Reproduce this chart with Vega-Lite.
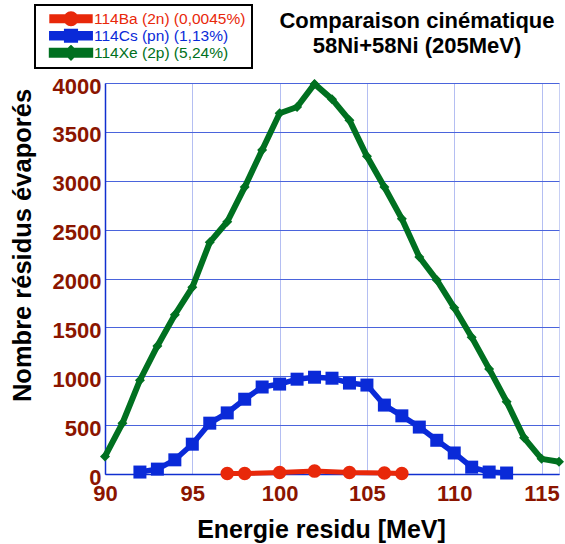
{
  "$schema": "https://vega.github.io/schema/vega-lite/v6.json",
  "width": 454,
  "height": 391,
  "autosize": {"type": "none"},
  "padding": {"left": 105, "top": 83, "right": 6, "bottom": 70},
  "background": "white",
  "config": {"font": "Liberation Sans", "view": {"stroke": "#c8d0f4", "strokeWidth": 1}},
  "title": {"text": ["Comparaison cinématique", "58Ni+58Ni (205MeV)"], "fontSize": 22, "fontWeight": "bold", "color": "black", "anchor": "middle", "dx": 85, "offset": -54, "lineHeight": 25},
  "data": {"values": [
    {"series": "114Ba (2n) (0,0045%)", "e": 97, "n": 5},
    {"series": "114Ba (2n) (0,0045%)", "e": 98, "n": 5},
    {"series": "114Ba (2n) (0,0045%)", "e": 100, "n": 15},
    {"series": "114Ba (2n) (0,0045%)", "e": 102, "n": 30},
    {"series": "114Ba (2n) (0,0045%)", "e": 104, "n": 15},
    {"series": "114Ba (2n) (0,0045%)", "e": 106, "n": 10},
    {"series": "114Ba (2n) (0,0045%)", "e": 107, "n": 5},
    {"series": "114Cs (pn) (1,13%)", "e": 92, "n": 20},
    {"series": "114Cs (pn) (1,13%)", "e": 93, "n": 50},
    {"series": "114Cs (pn) (1,13%)", "e": 94, "n": 145},
    {"series": "114Cs (pn) (1,13%)", "e": 95, "n": 305},
    {"series": "114Cs (pn) (1,13%)", "e": 96, "n": 520},
    {"series": "114Cs (pn) (1,13%)", "e": 97, "n": 625},
    {"series": "114Cs (pn) (1,13%)", "e": 98, "n": 765},
    {"series": "114Cs (pn) (1,13%)", "e": 99, "n": 890},
    {"series": "114Cs (pn) (1,13%)", "e": 100, "n": 920},
    {"series": "114Cs (pn) (1,13%)", "e": 101, "n": 970},
    {"series": "114Cs (pn) (1,13%)", "e": 102, "n": 990},
    {"series": "114Cs (pn) (1,13%)", "e": 103, "n": 980},
    {"series": "114Cs (pn) (1,13%)", "e": 104, "n": 930},
    {"series": "114Cs (pn) (1,13%)", "e": 105, "n": 910},
    {"series": "114Cs (pn) (1,13%)", "e": 106, "n": 705},
    {"series": "114Cs (pn) (1,13%)", "e": 107, "n": 595},
    {"series": "114Cs (pn) (1,13%)", "e": 108, "n": 480},
    {"series": "114Cs (pn) (1,13%)", "e": 109, "n": 345},
    {"series": "114Cs (pn) (1,13%)", "e": 110, "n": 215},
    {"series": "114Cs (pn) (1,13%)", "e": 111, "n": 70},
    {"series": "114Cs (pn) (1,13%)", "e": 112, "n": 20},
    {"series": "114Cs (pn) (1,13%)", "e": 113, "n": 10},
    {"series": "114Xe (2p) (5,24%)", "e": 90, "n": 180},
    {"series": "114Xe (2p) (5,24%)", "e": 91, "n": 520},
    {"series": "114Xe (2p) (5,24%)", "e": 92, "n": 960},
    {"series": "114Xe (2p) (5,24%)", "e": 93, "n": 1310},
    {"series": "114Xe (2p) (5,24%)", "e": 94, "n": 1630},
    {"series": "114Xe (2p) (5,24%)", "e": 95, "n": 1910},
    {"series": "114Xe (2p) (5,24%)", "e": 96, "n": 2370},
    {"series": "114Xe (2p) (5,24%)", "e": 97, "n": 2580},
    {"series": "114Xe (2p) (5,24%)", "e": 98, "n": 2935},
    {"series": "114Xe (2p) (5,24%)", "e": 99, "n": 3315},
    {"series": "114Xe (2p) (5,24%)", "e": 100, "n": 3690},
    {"series": "114Xe (2p) (5,24%)", "e": 101, "n": 3755},
    {"series": "114Xe (2p) (5,24%)", "e": 102, "n": 3990},
    {"series": "114Xe (2p) (5,24%)", "e": 103, "n": 3835},
    {"series": "114Xe (2p) (5,24%)", "e": 104, "n": 3620},
    {"series": "114Xe (2p) (5,24%)", "e": 105, "n": 3250},
    {"series": "114Xe (2p) (5,24%)", "e": 106, "n": 2935},
    {"series": "114Xe (2p) (5,24%)", "e": 107, "n": 2610},
    {"series": "114Xe (2p) (5,24%)", "e": 108, "n": 2220},
    {"series": "114Xe (2p) (5,24%)", "e": 109, "n": 1985},
    {"series": "114Xe (2p) (5,24%)", "e": 110, "n": 1700},
    {"series": "114Xe (2p) (5,24%)", "e": 111, "n": 1400},
    {"series": "114Xe (2p) (5,24%)", "e": 112, "n": 1075},
    {"series": "114Xe (2p) (5,24%)", "e": 113, "n": 740},
    {"series": "114Xe (2p) (5,24%)", "e": 114, "n": 370},
    {"series": "114Xe (2p) (5,24%)", "e": 115, "n": 155},
    {"series": "114Xe (2p) (5,24%)", "e": 116, "n": 125}
  ]},
  "encoding": {
    "x": {"field": "e", "type": "quantitative",
      "scale": {"domain": [90, 116], "nice": false, "zero": false},
      "axis": {"values": [90, 95, 100, 105, 110, 115], "format": "d", "labelColor": "#8B1500", "labelFontSize": 22, "labelFontWeight": "bold", "labelPadding": 9, "ticks": false,
        "domainColor": "#1030d0", "domainWidth": 1.5, "gridColor": "#b4bef2", "gridWidth": 1,
        "title": "Energie residu [MeV]", "titleFontSize": 25, "titleFontWeight": "bold", "titleColor": "black",
        "titleX": 216, "titleY": 55, "titleAlign": "center", "titleBaseline": "middle", "labelFlush": false}},
    "y": {"field": "n", "type": "quantitative",
      "scale": {"domain": [0, 4000], "nice": false},
      "axis": {"values": [0, 500, 1000, 1500, 2000, 2500, 3000, 3500, 4000], "format": "d", "labelColor": "#8B1500", "labelFontSize": 22, "labelFontWeight": "bold", "labelPadding": 4, "labelOffset": 3, "ticks": false, "labelOverlap": false,
        "domainColor": "#1030d0", "domainWidth": 1.5, "gridColor": "#4a64dc", "gridWidth": 1,
        "title": "Nombre résidus évaporés", "titleFontSize": 25.5, "titleFontWeight": "bold", "titleColor": "black",
        "titleX": -83, "titleY": 162, "titleAngle": 270, "titleAlign": "center", "titleBaseline": "middle", "labelFlush": false}},
    "color": {"field": "series", "type": "nominal",
      "scale": {"domain": ["114Ba (2n) (0,0045%)", "114Cs (pn) (1,13%)", "114Xe (2p) (5,24%)"], "range": ["#E8280A", "#0A2AD8", "#007020"]},
      "legend": {"orient": "none", "legendX": -70, "legendY": -78, "title": null, "padding": 6,
        "strokeColor": "black", "fillColor": "white", "cornerRadius": 0,
        "labelFontSize": 15.5, "labelFont": "Liberation Sans", "symbolSize": 144, "symbolOpacity": 1, "symbolStrokeWidth": 0, "symbolOffset": 21, "labelOffset": 14, "rowPadding": 0, "clipHeight": 15.5,
        "encode": {
          "legend": {"update": {"strokeWidth": {"value": 2}}},
          "labels": {"update": {
            "fill": {"signal": "datum.value === '114Ba (2n) (0,0045%)' ? '#E8280A' : datum.value === '114Cs (pn) (1,13%)' ? '#0A2AD8' : '#007020'"}
          }}
        }}}
  },
  "layer": [
    {"mark": {"type": "line"},
     "encoding": {"strokeWidth": {"field": "series", "type": "nominal", "scale": {"domain": ["114Ba (2n) (0,0045%)", "114Cs (pn) (1,13%)", "114Xe (2p) (5,24%)"], "range": [5, 6, 7]}, "legend": null}}},
    {"transform": [{"filter": "datum.series === '114Ba (2n) (0,0045%)'"}],
     "mark": {"type": "point", "filled": true, "opacity": 1, "shape": "circle", "size": 185}},
    {"transform": [{"filter": "datum.series === '114Cs (pn) (1,13%)'"}],
     "mark": {"type": "point", "filled": true, "opacity": 1, "shape": "square", "size": 169}},
    {"transform": [{"filter": "datum.series === '114Xe (2p) (5,24%)'"}],
     "mark": {"type": "point", "filled": true, "opacity": 1, "shape": "diamond", "size": 100}},
    {"transform": [{"filter": "false"}],
     "mark": {"type": "point", "filled": true, "opacity": 1},
     "encoding": {
       "shape": {"field": "series", "type": "nominal",
         "scale": {"domain": ["114Ba (2n) (0,0045%)", "114Cs (pn) (1,13%)", "114Xe (2p) (5,24%)"],
           "range": ["M-3.2,-0.34H3.2V0.34H-3.2Z M-0.84,0C-0.84,-0.46 -0.46,-0.84 0,-0.84C0.46,-0.84 0.84,-0.46 0.84,0C0.84,0.46 0.46,0.84 0,0.84C-0.46,0.84 -0.84,0.46 -0.84,0Z", "M-3.2,-0.34H3.2V0.34H-3.2Z M-0.72,-0.72H0.72V0.72H-0.72Z", "M-3.2,-0.32H3.2V0.32H-3.2Z M0,-0.65L0.65,0L0,0.65L-0.65,0Z"]},
         "legend": {"orient": "none", "legendX": -70, "legendY": -78, "title": null, "padding": 6,
           "strokeColor": "black", "fillColor": "white", "cornerRadius": 0,
           "labelFontSize": 15.5, "labelFont": "Liberation Sans", "symbolSize": 144, "symbolOpacity": 1, "symbolStrokeWidth": 0, "symbolOffset": 21, "labelOffset": 14, "rowPadding": 0, "clipHeight": 15.5}}}}
  ]
}
